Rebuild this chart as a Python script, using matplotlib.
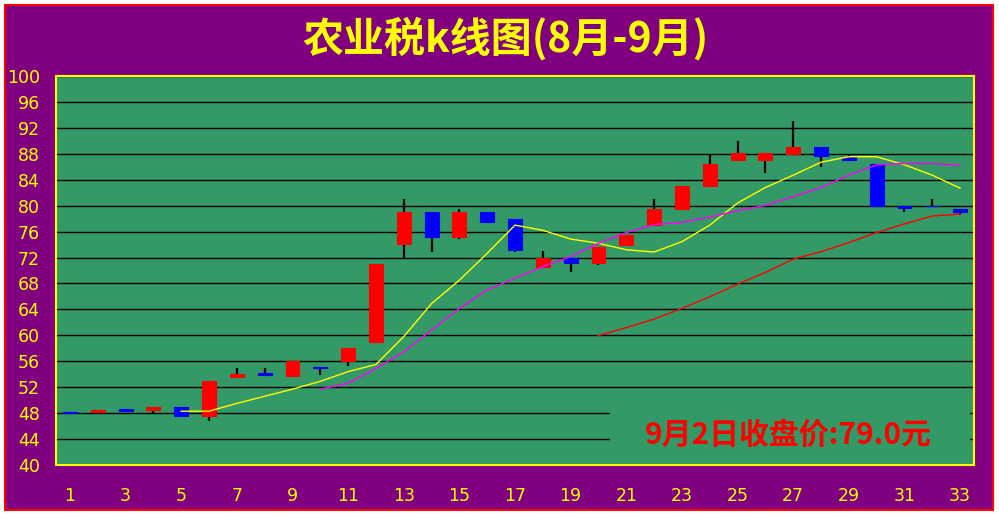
import matplotlib
matplotlib.use('Agg')
import matplotlib.pyplot as plt
from matplotlib.patches import Rectangle

plt.rcParams['font.family'] = ['DejaVu Sans', 'Noto Sans CJK SC']

# daily k-line data
days = list(range(1, 34))
opens = [48.2, 48.1, 48.6, 48.5, 49.0, 47.6, 53.6, 54.2, 53.8, 55.1, 56.0, 59.0, 74.1, 79.1, 75.1, 79.1, 77.9,
         70.6, 71.9, 71.1, 74.0, 77.0, 79.5, 83.0, 87.1, 87.1, 88.0, 89.0, 87.5, 86.5, 80.0, 80.0, 79.5]
closes = [48.0, 48.5, 48.4, 48.9, 47.6, 53.0, 54.1, 53.9, 56.0, 54.9, 58.0, 71.0, 79.1, 75.1, 79.1, 77.5, 73.1,
          71.9, 71.1, 73.6, 75.5, 79.5, 83.0, 86.5, 88.1, 88.1, 89.0, 87.6, 87.1, 80.0, 79.6, 79.9, 79.0]
highs = [48.2, 48.5, 48.6, 48.9, 49.0, 53.0, 55.0, 55.0, 56.0, 55.1, 58.0, 71.0, 81.0, 79.1, 79.5, 79.1, 77.9,
         73.0, 71.9, 73.6, 75.5, 81.0, 83.0, 88.0, 90.0, 88.1, 93.0, 89.0, 87.9, 86.5, 80.0, 81.0, 79.5]
lows = [48.0, 48.1, 48.4, 48.0, 47.5, 46.8, 53.5, 53.9, 53.6, 53.9, 55.3, 58.9, 71.9, 72.9, 74.9, 77.4, 72.9,
        70.4, 69.8, 70.9, 73.8, 76.9, 79.4, 82.9, 86.9, 85.0, 88.0, 85.9, 87.0, 80.0, 79.0, 79.9, 78.5]

# moving average lines as drawn
ma5_days = list(range(5, 34))
ma5 = [48.3, 48.3, 49.5, 50.6, 51.7, 52.9, 54.4, 55.5, 59.8, 64.9, 68.5, 72.65, 77.0, 76.2, 74.85, 74.2,
       73.2, 72.85, 74.45, 77.0, 80.4, 82.8, 84.7, 86.7, 87.55, 87.55, 86.3, 84.7, 82.7]
ma10_days = list(range(10, 34))
ma10 = [51.7, 52.6, 54.9, 57.45, 60.8, 64.15, 67.0, 68.8, 70.6, 72.15, 74.2, 75.85, 77.1, 77.4, 78.25,
        79.2, 80.05, 81.4, 82.8, 84.7, 86.3, 86.5, 86.5, 86.2]
ma20_days = list(range(20, 34))
ma20 = [59.95, 61.2, 62.5, 64.15, 65.95, 67.9, 69.7, 71.75, 72.9, 74.3, 75.85, 77.2, 78.4, 78.7]

title = '农业税k线图(8月-9月)'
note = '9月2日收盘价:79.0元'

PURPLE = '#800080'
GREEN = '#339966'

fig = plt.figure(figsize=(9.99, 5.15), dpi=100, facecolor='white')
# purple chart area with red frame
fig.patches.append(Rectangle((5 / 999, 1 - 510 / 515), 988 / 999, 505 / 515, transform=fig.transFigure,
                             facecolor=PURPLE, edgecolor='red', linewidth=1.5, zorder=-1))

ax = fig.add_axes([56 / 999, 1 - 465 / 515, 918 / 999, 389 / 515])
ax.set_facecolor(GREEN)

for i in range(len(days)):
    col = 'red' if closes[i] >= opens[i] else 'blue'
    ax.vlines(days[i], lows[i], highs[i], color='black', linewidth=1.6, zorder=2)
    ax.bar(days[i], closes[i] - opens[i], bottom=opens[i], width=0.5, color=col,
           edgecolor=col, linewidth=0.8, zorder=3)

ax.plot(ma5_days, ma5, color='yellow', linewidth=1.0, zorder=4)
ax.plot(ma10_days, ma10, color='#FF00FF', linewidth=1.0, zorder=4)
ax.plot(ma20_days, ma20, color='red', linewidth=1.0, zorder=4)

ax.set_xlim(0.5, 33.5)
ax.set_ylim(40, 100)
ax.set_yticks(range(40, 101, 4))
ax.set_xticks(days[::2])
ax.grid(axis='y', color='black', linewidth=1.0, zorder=1)
ax.set_axisbelow(True)
ax.tick_params(axis='both', length=0, colors='yellow', labelsize=12.5)
ax.tick_params(axis='y', pad=11.5)
ax.tick_params(axis='x', pad=16)
for s in ax.spines.values():
    s.set_color('yellow')
    s.set_linewidth(1.5)

# box behind the closing-price note
ax.add_patch(Rectangle((20.42, 41.1), 12.92, 8.9, facecolor=GREEN, edgecolor='none', zorder=1.5))
ax.text(26.83, 44.7, note, color='red', fontsize=21.5, fontweight='bold', ha='center', va='center',
        family=['Noto Sans CJK SC', 'DejaVu Sans'], zorder=5)

fig.text(0.5065, 1 - 39 / 515, title, color='yellow', fontsize=29.5, fontweight='bold', ha='center',
         va='center', family=['Noto Sans CJK SC', 'DejaVu Sans'])

fig.savefig('out.png', dpi=100, facecolor='white')
